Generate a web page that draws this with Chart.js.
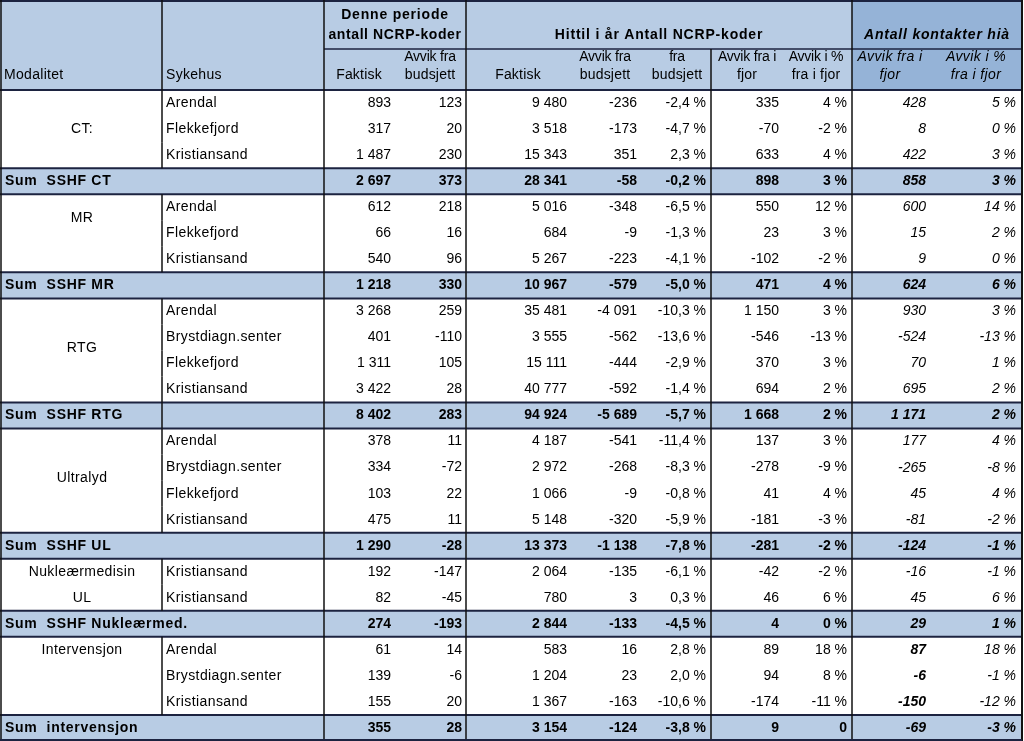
<!DOCTYPE html>
<html lang="no">
<head>
<meta charset="UTF-8">
<title>NCRP-koder</title>
<style>
  html, body { margin: 0; padding: 0; background: #fff; }
  .tabell { position: relative; width: 1024px; height: 741px; }
</style>
</head>
<body>
<div class="tabell"><canvas id="ncrp"></canvas></div>
<script src="https://cdn.jsdelivr.net/npm/chart.js"></script>
<script>
// Radene (sykehus / sumlinjer)
const radTekst = [
  'Arendal', 'Flekkefjord', 'Kristiansand', 'Sum  SSHF CT',
  'Arendal', 'Flekkefjord', 'Kristiansand', 'Sum  SSHF MR',
  'Arendal', 'Brystdiagn.senter', 'Flekkefjord', 'Kristiansand', 'Sum  SSHF RTG',
  'Arendal', 'Brystdiagn.senter', 'Flekkefjord', 'Kristiansand', 'Sum  SSHF UL',
  'Kristiansand', 'Kristiansand', 'Sum  SSHF Nukleærmed.',
  'Arendal', 'Brystdiagn.senter', 'Kristiansand', 'Sum  intervensjon'
];
const sumRader = [3, 7, 12, 17, 20, 24];
const modaliteter = ['CT:', 'MR', 'RTG', 'Ultralyd', 'Nukleærmedisin', 'UL', 'Intervensjon'];

// Denne periode
const denneFaktisk = [893, 317, 1487, 2697, 612, 66, 540, 1218, 3268, 401, 1311, 3422, 8402, 378, 334, 103, 475, 1290, 192, 82, 274, 61, 139, 155, 355];
const denneAvvik = [123, 20, 230, 373, 218, 16, 96, 330, 259, -110, 105, 28, 283, 11, -72, 22, 11, -28, -147, -45, -193, 14, -6, 20, 28];
// Hittil i år
const hittilFaktisk = [9480, 3518, 15343, 28341, 5016, 684, 5267, 10967, 35481, 3555, 15111, 40777, 94924, 4187, 2972, 1066, 5148, 13373, 2064, 780, 2844, 583, 1204, 1367, 3154];
const hittilAvvik = [-236, -173, 351, -58, -348, -9, -223, -579, -4091, -562, -444, -592, -5689, -541, -268, -9, -320, -1138, -135, 3, -133, 16, 23, -163, -124];
const hittilPst = [-2.4, -4.7, 2.3, -0.2, -6.5, -1.3, -4.1, -5.0, -10.3, -13.6, -2.9, -1.4, -5.7, -11.4, -8.3, -0.8, -5.9, -7.8, -6.1, 0.3, -4.5, 2.8, 2.0, -10.6, -3.8];
const fjorAvvik = [335, -70, 633, 898, 550, 23, -102, 471, 1150, -546, 370, 694, 1668, 137, -278, 41, -181, -281, -42, 46, 4, 89, 94, -174, 9];
const fjorPst = [4, -2, 4, 3, 12, 3, -2, 4, 3, -13, 3, 2, 2, 3, -9, 4, -3, -2, -2, 6, 0, 18, 8, -11, '0'];
// Antall kontakter
const kontaktAvvik = [428, 8, 422, 858, 600, 15, 9, 624, 930, -524, 70, 695, 1171, 177, -265, 45, -81, -124, -16, 45, 29, 87, -6, -150, -69];
const kontaktPst = [5, 0, 3, 3, 14, 2, 0, 6, 3, -13, 1, 2, 2, 4, -8, 4, -2, -1, -1, 6, 1, 18, -1, -12, -3];

// layout (kolonnekanter i x-enheter, rader i y-enheter)
const kolKant = [0, 162, 324, 394, 466, 570, 640, 711, 782, 852, 930, 1022];
const hoyreKant = [391, 462, 567, 637, 706, 779, 847, 926, 1016];
const modalPos = [1.5, 4.92, 9.9, 14.9, 18.5, 19.5, 21.5];
const fetKontakt = [21, 22, 23];
const HODE = -3.46;

const fmtTall = v => {
  const s = String(Math.abs(v)).replace(/\B(?=(\d{3})+(?!\d))/g, ' ');
  return (v < 0 ? '-' : '') + s;
};
const fmtPst1 = v => v.toFixed(1).replace('.', ',') + ' %';
const fmtPst = v => typeof v === 'string' ? v : v + ' %';

const kolonner = [
  [denneFaktisk, fmtTall], [denneAvvik, fmtTall],
  [hittilFaktisk, fmtTall], [hittilAvvik, fmtTall], [hittilPst, fmtPst1],
  [fjorAvvik, fmtTall], [fjorPst, fmtPst],
  [kontaktAvvik, fmtTall], [kontaktPst, fmtPst]
];

const LYS = '#b8cce4', MORK = '#95b3d7', STREK = '#1c2340';
const FONT = '"Liberation Sans", Arial, sans-serif';

const tabellPlugin = {
  id: 'tabell',
  beforeDatasetsDraw(chart) {
    const { ctx, scales: { x, y } } = chart;
    const px = v => x.getPixelForValue(v);
    const py = v => y.getPixelForValue(v);
    const n = radTekst.length;
    ctx.save();

    // bakgrunn
    ctx.fillStyle = LYS;
    ctx.fillRect(px(0), py(HODE), px(852) - px(0), py(0) - py(HODE));
    ctx.fillStyle = MORK;
    ctx.fillRect(px(852), py(HODE), px(1022) - px(852), py(0) - py(HODE));
    ctx.fillStyle = LYS;
    sumRader.forEach(r => ctx.fillRect(px(0), py(r), px(1022) - px(0), py(r + 1) - py(r)));

    // linjer
    const linje = (x1, y1, x2, y2, w, c) => {
      ctx.beginPath();
      ctx.strokeStyle = c || STREK;
      ctx.lineWidth = w;
      ctx.moveTo(x1, y1);
      ctx.lineTo(x2, y2);
      ctx.stroke();
    };
    linje(px(0), py(HODE) + 1, px(1022), py(HODE) + 1, 2);
    linje(px(324), py(-1.58), px(1022), py(-1.58), 1.5);
    linje(px(0), py(0), px(1022), py(0), 2);
    sumRader.forEach(r => {
      linje(px(0), py(r), px(1022), py(r), 2);
      linje(px(0), py(r + 1), px(1022), py(r + 1), 2);
    });
    [0, 324, 466, 852].forEach(k => linje(px(k) + (k === 0 ? 1 : 0), py(HODE), px(k) + (k === 0 ? 1 : 0), py(n), 1.5, '#111'));
    linje(px(1022), py(HODE), px(1022), py(n), 2, '#111');
    linje(px(711), py(-1.58), px(711), py(n), 1.5, '#111');
    linje(px(162), py(HODE), px(162), py(0), 1.5, '#111');
    for (let r = 0; r < n; r++) {
      if (!sumRader.includes(r) || r === 12) linje(px(162), py(r), px(162), py(r + 1), 1.5, '#111');
    }
    linje(px(0), py(n) - 1, px(1022), py(n) - 1, 2);

    // tekst
    const skriv = (t, xx, yy, font, align, sp) => {
      ctx.font = font;
      ctx.textAlign = align;
      ctx.letterSpacing = sp || '0px';
      ctx.fillStyle = '#000';
      ctx.textBaseline = 'middle';
      ctx.fillText(t, xx, yy);
    };
    const reg = '14px ' + FONT, fet = 'bold 14px ' + FONT;
    const kur = 'italic 14px ' + FONT, fetKur = 'italic bold 14px ' + FONT;

    // hode
    skriv('Modalitet', px(4), py(-0.58), reg, 'left', '0.3px');
    skriv('Sykehus', px(166), py(-0.58), reg, 'left', '0.3px');
    skriv('Denne periode', px(395), py(-2.88), fet, 'center', '0.8px');
    skriv('antall NCRP-koder', px(395), py(-2.12), fet, 'center', '0.6px');
    skriv('Hittil i år Antall NCRP-koder', px(659), py(-2.12), fet, 'center', '0.8px');
    skriv('Antall kontakter hià', px(937), py(-2.12), fetKur, 'center', '0.8px');
    const under = [
      [359, ['Faktisk']], [430, ['Avvik fra', 'budsjett']],
      [518, ['Faktisk']], [605, ['Avvik fra', 'budsjett']], [677, ['fra', 'budsjett']],
      [747, ['Avvik fra i', 'fjor']], [816, ['Avvik i %', 'fra i fjor']]
    ];
    under.forEach(([cx, linjer]) => {
      if (linjer.length === 1) skriv(linjer[0], px(cx), py(-0.58), reg, 'center', '0.2px');
      else {
        skriv(linjer[0], px(cx), py(-1.28), reg, 'center', '-0.2px');
        skriv(linjer[1], px(cx), py(-0.58), reg, 'center', '0.2px');
      }
    });
    skriv('Avvik fra i', px(890), py(-1.28), kur, 'center', '0.4px');
    skriv('fjor', px(890), py(-0.58), kur, 'center', '0.4px');
    skriv('Avvik i %', px(976), py(-1.28), kur, 'center', '0.4px');
    skriv('fra i fjor', px(976), py(-0.58), kur, 'center', '0.4px');

    // modaliteter
    modaliteter.forEach((m, i) => skriv(m, px(82), py(modalPos[i]), reg, 'center', '0.4px'));

    // rader
    for (let r = 0; r < n; r++) {
      const erSum = sumRader.includes(r);
      const cy = py(r + 0.5);
      if (erSum) skriv(radTekst[r], px(5), cy, fet, 'left', '0.7px');
      else skriv(radTekst[r], px(166), cy, reg, 'left', '0.4px');
      kolonner.forEach(([verdier, fmt], k) => {
        let f = erSum ? fet : reg;
        if (k >= 7) f = erSum || (k === 7 && fetKontakt.includes(r)) ? fetKur : kur;
        skriv(fmt(verdier[r]), px(hoyreKant[k]), cy, f, 'right', '0px');
      });
    }
    ctx.restore();
  }
};

new Chart(document.getElementById('ncrp'), {
  type: 'scatter',
  data: { datasets: [] },
  options: {
    responsive: true,
    maintainAspectRatio: false,
    animation: false,
    layout: { padding: 0 },
    plugins: { legend: { display: false }, tooltip: { enabled: false } },
    scales: {
      x: { type: 'linear', min: 0, max: 1024, display: false },
      y: { type: 'linear', min: HODE, max: radTekst.length, reverse: true, display: false }
    }
  },
  plugins: [tabellPlugin]
});
</script>
</body>
</html>
